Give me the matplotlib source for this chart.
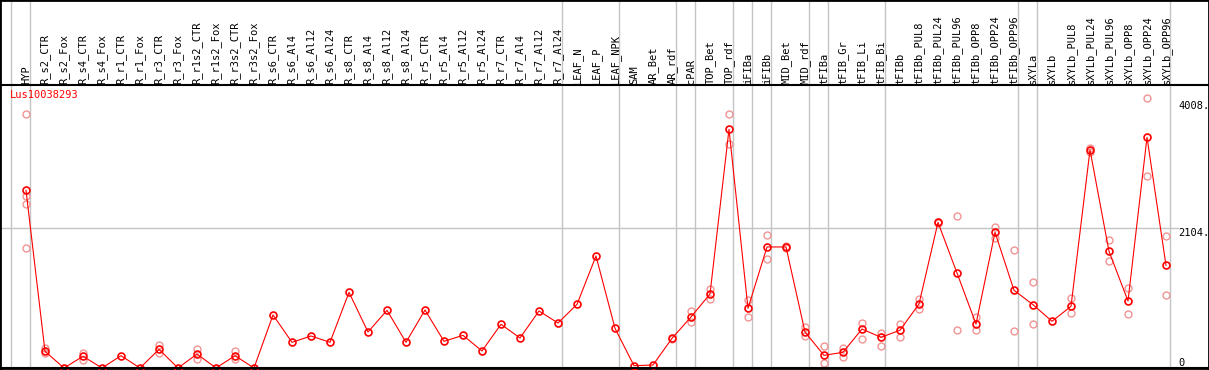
import matplotlib
matplotlib.use('Agg')
import matplotlib.pyplot as plt

gene_id = 'Lus10038293'

sample_names = [
    'HYP', 'R_s2_CTR', 'R_s2_Fox', 'R_s4_CTR', 'R_s4_Fox', 'R_r1_CTR', 'R_r1_Fox',
    'R_r3_CTR', 'R_r3_Fox', 'R_r1s2_CTR', 'R_r1s2_Fox', 'R_r3s2_CTR', 'R_r3s2_Fox',
    'R_s6_CTR', 'R_s6_Al4', 'R_s6_Al12', 'R_s6_Al24', 'R_s8_CTR', 'R_s8_Al4',
    'R_s8_Al12', 'R_s8_Al24', 'R_r5_CTR', 'R_r5_Al4', 'R_r5_Al12', 'R_r5_Al24',
    'R_r7_CTR', 'R_r7_Al4', 'R_r7_Al12', 'R_r7_Al24', 'LEAF_N', 'LEAF_P', 'LEAF_NPK',
    'SAM', 'AR_Bet', 'AR_rdf', 'cPAR', 'TOP_Bet', 'TOP_rdf', 'iFIBa', 'iFIBb',
    'MID_Bet', 'MID_rdf', 'tFIBa', 'tFIB_Gr', 'tFIB_Li', 'tFIB_Bi', 'tFIBb',
    'tFIBb_PUL8', 'tFIBb_PUL24', 'tFIBb_PUL96', 'tFIBb_OPP8', 'tFIBb_OPP24',
    'tFIBb_OPP96', 'sXYLa', 'sXYLb', 'sXYLb_PUL8', 'sXYLb_PUL24', 'sXYLb_PUL96',
    'sXYLb_OPP8', 'sXYLb_OPP24', 'sXYLb_OPP96',
]

mean_expr = [
    2671, 251, 0, 176, 0, 185, 0, 281, 0, 210, 0, 185, 0,
    797, 386, 481, 386, 1137, 541, 867, 386, 872, 401, 491, 256,
    657, 451, 857, 676, 957, 1683, 596,
    35, 45, 446, 767, 1112, 3587, 897, 1819, 1819, 541,
    190, 236, 586, 461, 568, 962, 2189, 1428, 661, 2039, 1168,
    952, 702, 927, 3277, 1754, 1007, 3467, 1543,
]

replicates = [
    [3813, 2590, 2460, 1799], [296, 221], [], [230, 125], [], [], [],
    [346, 221], [], [286, 135], [], [256, 135], [],
    [], [], [], [], [], [], [], [], [], [], [], [],
    [], [], [], [], [], [], [],
    [], [], [431], [857, 687], [1192, 1032], [3813, 3367], [1022, 762], [1994, 1634],
    [1838, 1800], [611, 481],
    [326, 70], [305, 160], [681, 436], [521, 335], [656, 471], [1032, 882],
    [2200, 2180], [2285, 566], [762, 566], [2124, 1949], [1769, 551],
    [1288, 656], [], [1052, 827], [3307, 3250], [1919, 1604], [1202, 807],
    [4053, 2881], [1979, 1092],
]

# last sample index of each group (gray separators)
group_ends = [-1, 0, 28, 31, 34, 35, 37, 38, 39, 41, 42, 45, 52, 53, 60]

y_ticks = [4008, 2104, 0]
y_tick_labels = ['4008.', '2104.', '0']

# pixel geometry of the original picture
W, H = 1209, 370
x0_px, step_px = 26, 19
zero_px, ppu = 368, 140 / 2104


def px_x(px):
    return (px - x0_px) / step_px


def px_y(py):
    return (zero_px - py) / ppu


mono = 'DejaVu Sans Mono'
fsize = 7.5

fig = plt.figure(figsize=(W / 100, H / 100), dpi=100)
ax = fig.add_axes([0, 0, 1, 1])
ax.set_xlim(px_x(0), px_x(W))
ax.set_ylim(px_y(H), px_y(0))
ax.set_xticks([])
ax.set_yticks([])
for s in ax.spines.values():
    s.set_color('black')
    s.set_linewidth(2)

grid_c = '#c4c4c4'
for k in group_ends:
    ax.axvline(k + 4 / step_px, color=grid_c, lw=1, zorder=1)
ax.plot([px_x(0), px_x(1178)], [2104, 2104], color=grid_c, lw=1, zorder=1)
ax.axhline(px_y(85), color='black', lw=1.5, zorder=2)
ax.axhline(0, color='black', lw=1.5, zorder=5)

x = list(range(len(sample_names)))
for i, reps in enumerate(replicates):
    if reps:
        ax.plot([i] * len(reps), reps, 'o', ms=5, mfc='none', mec='#f09494',
                mew=1, zorder=3)
ax.plot(x, mean_expr, '-', color='red', lw=0.8, zorder=4)
ax.plot(x, mean_expr, 'o', ms=5, mfc='none', mec='red', mew=1.2, zorder=4)

for i, name in enumerate(sample_names):
    ax.text(i, px_y(84), name, rotation=90, ha='center', va='bottom',
            family=mono, fontsize=fsize, color='black')

ax.text(px_x(10), px_y(95), gene_id, ha='left', va='center',
        family=mono, fontsize=fsize, color='red')

for v, lab in zip(y_ticks, y_tick_labels):
    ax.text(px_x(1178), v, lab, ha='left', va='top' if v > 0 else 'bottom',
            family=mono, fontsize=fsize, color='black')

fig.savefig('out.png', dpi=100)
